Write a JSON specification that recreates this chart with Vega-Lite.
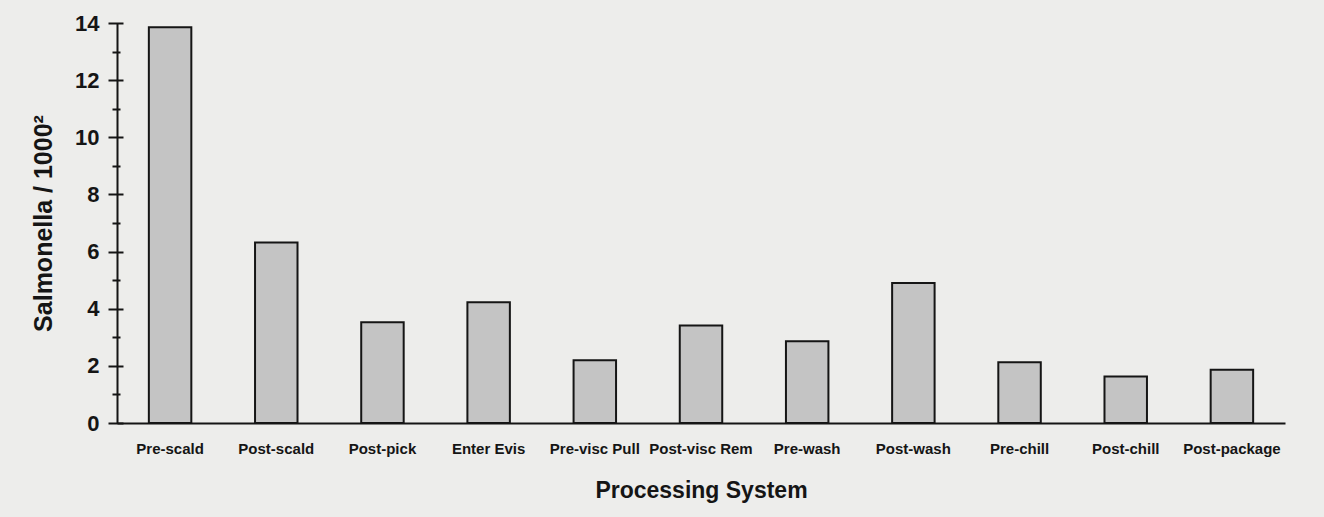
{
  "$schema": "https://vega.github.io/schema/vega-lite/v6.json",
  "width": 1168,
  "height": 400,
  "autosize": {"type": "none"},
  "padding": {"left": 117, "top": 23, "right": 39, "bottom": 94},
  "background": "#ededeb",
  "config": {
    "view": {"stroke": null},
    "font": "Liberation Sans",
    "axis": {"labelFont": "Liberation Sans", "titleFont": "Liberation Sans", "labelColor": "#151515", "titleColor": "#151515", "domainColor": "#151515", "tickColor": "#151515", "grid": false}
  },
  "data": {
    "values": [
      {"stage": "Pre-scald", "salmonella": 13.85},
      {"stage": "Post-scald", "salmonella": 6.32},
      {"stage": "Post-pick", "salmonella": 3.53},
      {"stage": "Enter Evis", "salmonella": 4.23},
      {"stage": "Pre-visc Pull", "salmonella": 2.2},
      {"stage": "Post-visc Rem", "salmonella": 3.41},
      {"stage": "Pre-wash", "salmonella": 2.86},
      {"stage": "Post-wash", "salmonella": 4.9},
      {"stage": "Pre-chill", "salmonella": 2.13},
      {"stage": "Post-chill", "salmonella": 1.63},
      {"stage": "Post-package", "salmonella": 1.86}
    ]
  },
  "resolve": {"axis": {"y": "independent"}},
  "encoding": {
    "x": {
      "field": "stage", "type": "nominal", "sort": null,
      "scale": {"paddingInner": 0.6, "paddingOuter": 0.3},
      "axis": {
        "orient": "bottom",
        "title": "Processing System", "titleFontSize": 23, "titleFontWeight": "bold", "titlePadding": 23,
        "labelAngle": 0, "labelFontSize": 15, "labelFontWeight": "bold", "labelPadding": 18,
        "ticks": false, "domain": true, "domainWidth": 2
      }
    }
  },
  "layer": [
    {
      "mark": {"type": "bar", "fill": "#c4c4c4", "stroke": "#151515", "strokeWidth": 2},
      "encoding": {
        "y": {
          "field": "salmonella", "type": "quantitative",
          "scale": {"domain": [0, 14], "nice": false},
          "axis": {
            "orient": "left", "values": [0, 2, 4, 6, 8, 10, 12, 14],
            "title": "Salmonella / 1000²", "titleFontSize": 25, "titleFontWeight": "bold", "titlePadding": 18,
            "labelFontSize": 22, "labelFontWeight": "bold", "labelPadding": 18,
            "ticks": false, "domain": true, "domainWidth": 2
          }
        }
      }
    },
    {
      "mark": {"type": "bar", "opacity": 0},
      "encoding": {
        "y": {
          "field": "salmonella", "type": "quantitative",
          "axis": {"orient": "left", "values": [0, 2, 4, 6, 8, 10, 12, 14], "offset": -6, "tickSize": 15, "tickWidth": 2, "domain": false, "labels": false, "title": null}
        }
      }
    },
    {
      "mark": {"type": "bar", "opacity": 0},
      "encoding": {
        "y": {
          "field": "salmonella", "type": "quantitative",
          "axis": {"orient": "left", "values": [1, 3, 5, 7, 9, 11, 13], "offset": -3, "tickSize": 8, "tickWidth": 2, "domain": false, "labels": false, "title": null}
        }
      }
    }
  ]
}
